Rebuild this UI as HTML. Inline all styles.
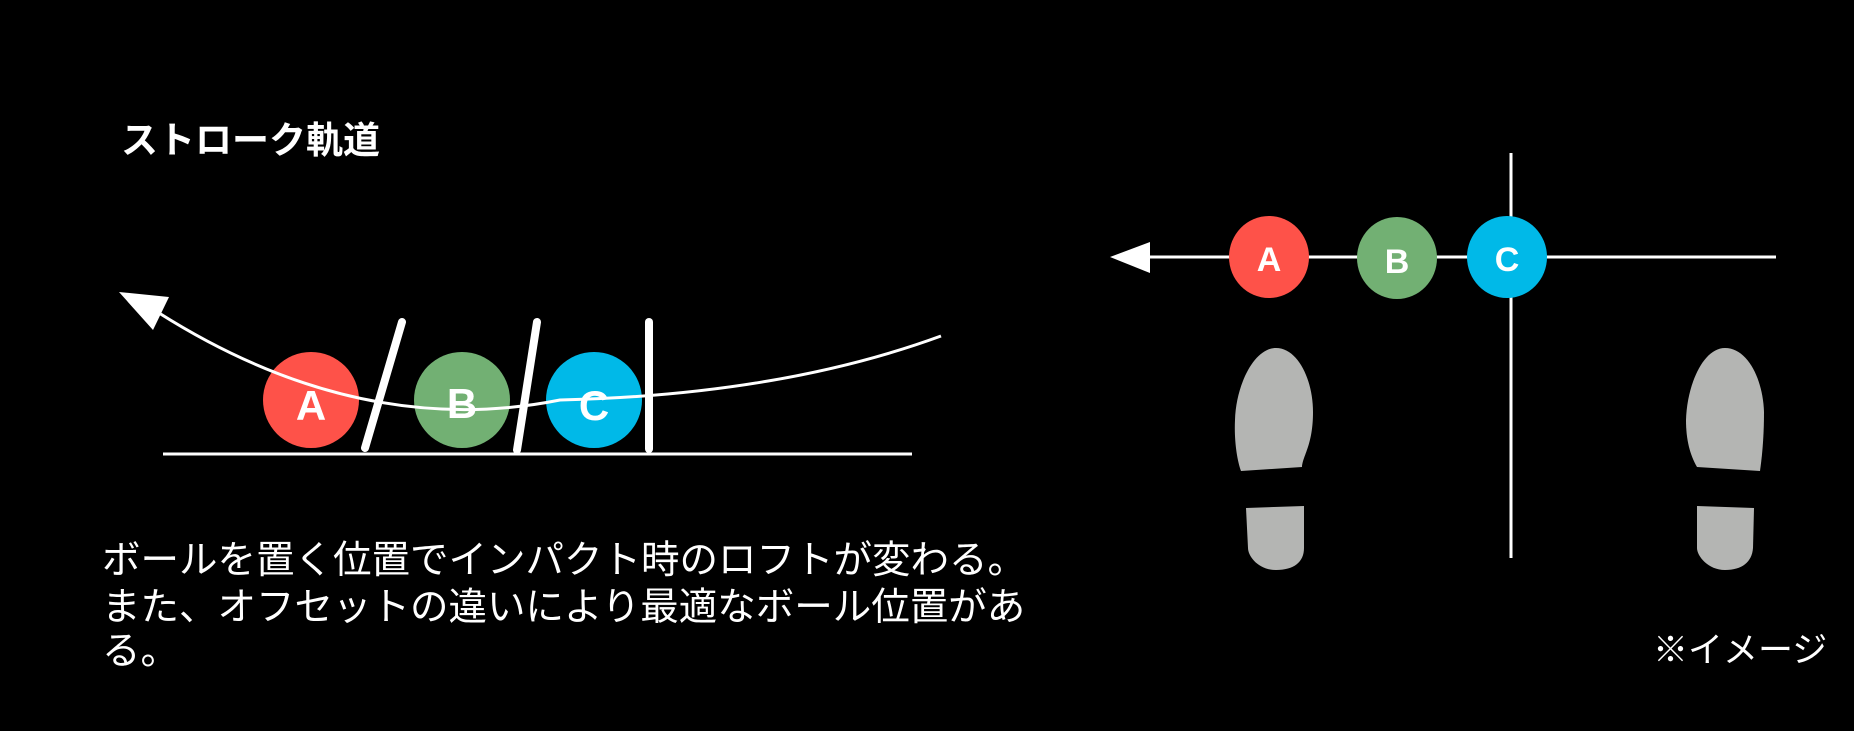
<!DOCTYPE html>
<html><head><meta charset="utf-8"><style>
html,body{margin:0;padding:0;background:#000;width:1854px;height:731px;overflow:hidden}
svg{position:absolute;left:0;top:0}
.t{font-family:"Liberation Sans","Noto Sans CJK JP",sans-serif;fill:#fff}
</style></head><body>
<svg width="1854" height="731" viewBox="0 0 1854 731">
<rect width="1854" height="731" fill="#000"/>
<text class="t" x="121" y="153" font-size="37" font-weight="bold">ストローク軌道</text>
<line x1="163" y1="454" x2="912" y2="454" stroke="#fff" stroke-width="3"/>
<ellipse cx="311" cy="400" rx="48" ry="48" fill="#fe5249"/>
<ellipse cx="462" cy="400" rx="48" ry="48" fill="#72b073"/>
<ellipse cx="594" cy="400" rx="48" ry="48" fill="#00b9e8"/>
<g font-family="Liberation Sans, sans-serif" font-weight="bold" font-size="42" fill="#fff" text-anchor="middle">
<text x="311" y="420">A</text><text x="462" y="418">B</text><text x="594" y="420">C</text>
</g>
<path d="M159 313 Q 360 440 560 400 Q 780 395 941 336" fill="none" stroke="#fff" stroke-width="3"/>
<polygon points="119,292 169,297 153,330" fill="#fff"/>
<line x1="402" y1="322" x2="365" y2="448" stroke="#fff" stroke-width="8" stroke-linecap="round"/>
<line x1="537" y1="322" x2="517" y2="450" stroke="#fff" stroke-width="8" stroke-linecap="round"/>
<line x1="649" y1="322" x2="649" y2="449" stroke="#fff" stroke-width="8" stroke-linecap="round"/>
<g class="t" font-size="38.5">
<text x="102" y="573">ボールを置く位置でインパクト時のロフトが変わる。</text>
<text x="102" y="620">また、オフセットの違いにより最適なボール位置があ</text>
<text x="102" y="664">る。</text>
</g>
<line x1="1511" y1="153" x2="1511" y2="558" stroke="#fff" stroke-width="3"/>
<line x1="1148" y1="257" x2="1776" y2="257" stroke="#fff" stroke-width="3"/>
<polygon points="1110,257 1150,242 1150,273" fill="#fff"/>
<ellipse cx="1269" cy="257" rx="40" ry="41" fill="#fe5249"/>
<ellipse cx="1397" cy="258" rx="40" ry="41" fill="#72b073"/>
<ellipse cx="1507" cy="257" rx="40" ry="41" fill="#00b9e8"/>
<g font-family="Liberation Sans, sans-serif" font-weight="bold" font-size="34" fill="#fff" text-anchor="middle">
<text x="1269" y="271">A</text><text x="1397" y="273">B</text><text x="1507" y="271">C</text>
</g>
<g fill="#b4b5b3">
<path d="M1276 348 C1254 348 1236 385 1235 420 C1234 440 1237 460 1241 471 L1302 467 C1303 455 1313 445 1313 412 C1313 380 1298 348 1276 348Z"/>
<path d="M1246 508 L1304 506 L1304 548 C1304 562 1294 570 1276 570 C1258 570 1248 556 1248 548Z"/>
<path d="M1725 348 C1703 348 1687 385 1686 420 C1686 440 1690 455 1697 467 L1760 471 C1763 450 1764 430 1764 412 C1763 380 1748 348 1725 348Z"/>
<path d="M1697 506 L1754 508 L1753 548 C1752 562 1742 570 1725 570 C1708 570 1697 556 1697 548Z"/>
</g>
<text class="t" x="1653" y="662" font-size="35">※イメージ</text>
</svg>
</body></html>
